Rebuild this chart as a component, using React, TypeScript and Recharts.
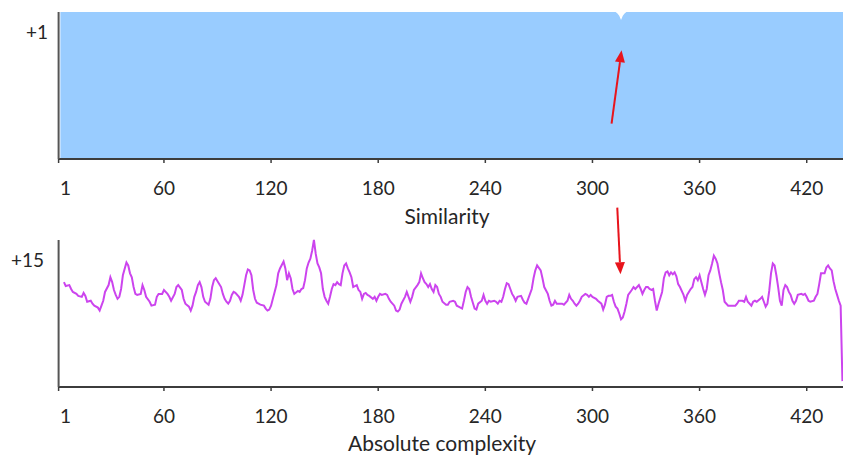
import { AreaChart, Area, LineChart, Line, XAxis, YAxis, ReferenceLine, Label } from 'recharts';

const xTicks = [1, 60, 120, 180, 240, 300, 360, 420];

// Similarity sits at +1 everywhere except a small dip around residue 316
const simPositions = [2, 313, 314, 315, 316, 317, 318, 319, 441];
const simValues = [1, 1, 0.99, 0.975, 0.945, 0.975, 0.99, 1, 1];

// Absolute complexity
const cxPositions = [
  4, 5, 7, 8, 9, 11, 12, 14, 15, 16, 17, 19, 20, 21, 23, 24, 25, 26, 27, 29, 30, 31, 32, 33, 34, 35, 36, 37, 39, 40,
  41, 42, 43, 44, 45, 47, 48, 49, 50, 52, 53, 55, 56, 57, 59, 60, 62, 63, 64, 66, 67, 68, 70, 71, 72, 74, 75, 76, 77, 78,
  79, 80, 81, 82, 83, 85, 86, 87, 88, 89, 90, 92, 93, 94, 95, 96, 97, 98, 99, 100, 102, 103, 104, 105, 106, 107, 108, 109, 110, 111,
  112, 113, 114, 116, 117, 118, 119, 120, 121, 122, 123, 124, 125, 127, 128, 129, 130, 131, 132, 133, 135, 136, 137, 138, 139, 140, 141, 142, 143, 144,
  145, 146, 147, 148, 149, 150, 151, 152, 153, 154, 155, 156, 157, 158, 159, 160, 161, 162, 163, 164, 165, 166, 168, 169, 170, 171, 172, 173, 174, 175,
  177, 178, 179, 180, 181, 182, 184, 185, 186, 187, 189, 190, 191, 192, 193, 195, 196, 197, 198, 199, 200, 202, 203, 204, 205, 206, 207, 208, 209, 210,
  211, 212, 213, 214, 215, 216, 218, 219, 220, 222, 223, 224, 225, 227, 228, 229, 230, 231, 232, 233, 234, 235, 236, 238, 239, 240, 241, 242, 243, 245,
  246, 247, 248, 249, 250, 251, 252, 253, 254, 255, 256, 257, 258, 260, 261, 262, 263, 264, 266, 267, 268, 269, 271, 272, 273, 275, 276, 277, 278, 279,
  280, 282, 283, 284, 286, 287, 288, 289, 290, 291, 292, 293, 294, 296, 297, 298, 299, 300, 302, 303, 305, 306, 307, 308, 309, 310, 311, 312, 313, 314,
  315, 316, 317, 318, 319, 320, 322, 323, 324, 326, 327, 328, 329, 330, 331, 332, 333, 334, 335, 336, 337, 339, 340, 341, 342, 343, 344, 345, 346, 347,
  348, 349, 351, 352, 353, 355, 356, 357, 358, 359, 360, 361, 362, 363, 364, 365, 366, 367, 368, 369, 370, 371, 372, 373, 374, 376, 377, 378, 380, 381,
  382, 384, 385, 386, 387, 389, 390, 391, 392, 394, 395, 396, 397, 398, 399, 400, 401, 402, 403, 404, 405, 406, 407, 408, 409, 410, 411, 412, 413, 414,
  415, 417, 418, 419, 420, 421, 422, 424, 425, 426, 427, 428, 430, 431, 432, 433, 434, 435, 436, 437, 438, 439, 440,
];
const cxValues = [
  10.7, 10.3, 10.4, 10.0, 9.7, 9.5, 9.3, 9.2, 9.6, 9.3, 8.7, 8.8, 8.5, 8.3, 8.1, 7.8, 8.3, 8.8, 9.7, 10.4, 11.2, 10.7, 9.9, 9.4, 9.0, 9.2, 10.0, 11.4, 12.7, 12.4,
  11.6, 11.2, 10.2, 9.5, 9.4, 9.5, 10.4, 9.9, 9.2, 8.7, 8.3, 8.4, 9.2, 9.5, 9.5, 9.9, 9.5, 9.2, 8.8, 9.5, 10.2, 10.4, 9.9, 9.0, 8.5, 8.2, 7.8, 8.3, 9.2, 9.7,
  10.4, 10.7, 10.2, 9.2, 8.7, 8.4, 9.0, 10.2, 10.9, 11.1, 10.8, 10.2, 9.5, 9.0, 8.7, 8.5, 8.8, 9.4, 9.7, 9.6, 9.2, 8.8, 9.4, 10.4, 11.4, 12.0, 11.9, 11.4, 9.9, 9.0,
  8.6, 8.5, 8.4, 8.3, 8.0, 7.8, 7.9, 8.3, 9.0, 9.7, 10.4, 11.6, 12.1, 12.8, 12.1, 10.9, 11.6, 11.1, 10.0, 9.5, 9.8, 9.7, 10.0, 10.1, 10.9, 12.1, 12.7, 13.1, 13.9, 15.0,
  13.6, 12.6, 12.2, 11.6, 10.0, 9.2, 8.8, 8.5, 9.2, 10.0, 10.5, 10.4, 10.7, 10.5, 10.4, 11.6, 12.4, 12.6, 12.1, 11.7, 11.2, 10.2, 10.4, 9.9, 9.7, 9.0, 9.5, 9.6, 9.4, 9.3,
  9.0, 9.2, 8.8, 9.2, 9.5, 9.4, 9.5, 9.4, 9.0, 8.7, 8.3, 7.8, 7.7, 7.9, 8.5, 9.2, 9.7, 9.2, 8.7, 9.2, 9.9, 10.4, 10.7, 11.6, 11.1, 10.7, 10.5, 10.2, 10.5, 10.0,
  9.7, 10.4, 10.2, 9.5, 9.2, 8.7, 8.4, 8.4, 8.7, 8.8, 8.7, 8.3, 8.2, 8.0, 8.8, 9.7, 10.2, 10.0, 9.2, 8.6, 8.0, 7.9, 8.5, 8.8, 9.4, 8.8, 8.5, 8.8, 8.7, 8.8,
  8.7, 8.5, 8.8, 8.7, 9.2, 10.0, 10.6, 10.5, 10.0, 9.5, 9.2, 8.8, 9.2, 9.3, 8.9, 8.6, 8.5, 9.0, 10.0, 11.1, 11.9, 12.4, 11.9, 11.1, 10.2, 9.5, 8.8, 8.3, 8.4, 8.8,
  8.5, 8.5, 8.5, 8.4, 8.8, 9.4, 9.0, 8.8, 8.5, 8.3, 8.5, 8.8, 9.2, 9.5, 9.4, 9.2, 9.4, 9.2, 9.0, 8.8, 8.5, 7.9, 8.4, 9.2, 9.3, 9.3, 9.4, 8.7, 8.2, 8.0,
  7.5, 6.9, 7.1, 7.7, 8.5, 9.4, 9.9, 10.2, 10.0, 10.4, 10.0, 9.5, 9.9, 10.2, 10.2, 10.0, 9.9, 10.0, 8.8, 7.8, 8.5, 9.7, 11.1, 11.7, 11.8, 11.4, 11.7, 11.5, 11.7, 11.3,
  10.5, 10.2, 9.4, 8.8, 9.4, 10.0, 10.2, 11.0, 11.2, 10.9, 11.4, 10.7, 10.0, 9.4, 10.0, 11.4, 11.9, 12.6, 13.4, 13.1, 12.6, 11.6, 10.7, 9.9, 8.7, 8.3, 8.3, 8.3, 8.3, 8.5,
  8.8, 8.8, 8.7, 9.2, 8.7, 8.3, 8.7, 8.8, 8.7, 9.0, 9.2, 8.7, 8.2, 8.5, 9.8, 11.6, 12.6, 12.4, 11.4, 10.2, 8.8, 8.3, 9.9, 10.4, 10.2, 9.7, 9.4, 8.8, 8.5, 8.8,
  9.4, 9.5, 9.4, 9.5, 9.2, 8.8, 8.7, 8.8, 9.2, 9.5, 10.5, 11.6, 11.6, 12.2, 12.4, 12.1, 11.9, 10.8, 10.0, 9.4, 8.8, 8.3, 0.6,
];

const simData = simPositions.map((pos, i) => ({ pos, value: simValues[i] }));
const cxData = cxPositions.map((pos, i) => ({ pos, value: cxValues[i] }));

const FONT = 'Lato, "Open Sans", sans-serif';
const TEXT = '#262626';
const AXIS = '#3c3c3c';
const RED = '#e8141c';

const renderXTick = (p: any) => {
  const v = p.payload.value;
  return (
    <text x={p.x + (v === 1 ? 7 : 0)} y={p.y + 24} textAnchor="middle" dominantBaseline="central"
      fontFamily={FONT} fontSize={19} fill={TEXT}>
      {v}
    </text>
  );
};

const yTick = (label: string, gap: number) => (p: any) => (
  <text x={p.x - gap} y={p.y + 19} textAnchor="end" dominantBaseline="central" fontFamily={FONT} fontSize={19} fill={TEXT}>
    {label}
  </text>
);

const title = (text: string, cx: number, dy: number) => (p: any) => (
  <text x={cx} y={p.viewBox.y + dy} textAnchor="middle" dominantBaseline="central" fontFamily={FONT} fontSize={21} fill={TEXT}>
    {text}
  </text>
);

const Arrow = (p: any) => {
  const { x1, y1, x2, y2 } = p;
  const a = Math.atan2(y2 - y1, x2 - x1);
  const len = 12;
  const half = 5;
  const bx = x2 - len * Math.cos(a);
  const by = y2 - len * Math.sin(a);
  const nx = -Math.sin(a) * half;
  const ny = Math.cos(a) * half;
  return (
    <g>
      <line x1={x1} y1={y1} x2={bx} y2={by} stroke={RED} strokeWidth={2} />
      <polygon points={`${x2},${y2} ${bx + nx},${by + ny} ${bx - nx},${by - ny}`} fill={RED} />
    </g>
  );
};

const xAxisCommon = {
  dataKey: 'pos',
  type: 'number' as const,
  domain: [1, 442],
  ticks: xTicks,
  interval: 0 as const,
  allowDataOverflow: true,
  tickSize: 4,
  tickMargin: 0,
  axisLine: { stroke: AXIS, strokeWidth: 2 },
  tickLine: { stroke: AXIS, strokeWidth: 1.5 },
  tick: renderXTick,
};

export default function App() {
  return (
    <div style={{ position: 'fixed', left: 0, top: 0, width: 843, height: 456, overflow: 'hidden', background: '#fff' }}>
      <div style={{ position: 'absolute', left: 0, top: 0 }}>
        <AreaChart width={846} height={235} data={simData} margin={{ top: 12, right: 0, bottom: 0, left: 0 }}>
          <XAxis {...xAxisCommon} height={76}>
            <Label content={title('Similarity', 447, 56)} />
          </XAxis>
          <YAxis type="number" domain={[0, 1]} ticks={[1]} width={58.6} tickLine={false} tickSize={0} tickMargin={0}
            axisLine={{ stroke: '#555', strokeWidth: 2 }} tick={yTick('+1', 10.6)} />
          <Area dataKey="value" type="linear" fill="#99ccff" fillOpacity={1} stroke="none" isAnimationActive={false} />
          <ReferenceLine segment={[{ x: 310.7, y: 0.24 }, { x: 316.3, y: 0.74 }]} ifOverflow="visible" shape={Arrow} />
        </AreaChart>
      </div>
      <div style={{ position: 'absolute', left: 0, top: 190 }}>
        <LineChart width={846} height={266} data={cxData} margin={{ top: 50, right: 0, bottom: 0, left: 0 }}>
          <XAxis {...xAxisCommon} height={69}>
            <Label content={title('Absolute complexity', 442, 55)} />
          </XAxis>
          <YAxis type="number" domain={[0, 15]} ticks={[15]} width={58.6} tickLine={false} tickSize={0} tickMargin={0}
            axisLine={{ stroke: '#555', strokeWidth: 2 }} tick={yTick('+15', 14.6)} />
          <Line dataKey="value" type="linear" stroke="#cc44ee" strokeWidth={2} dot={false} isAnimationActive={false} />
          <ReferenceLine segment={[{ x: 313.9, y: 18.3 }, { x: 315.7, y: 11.5 }]} ifOverflow="visible" shape={Arrow} />
        </LineChart>
      </div>
    </div>
  );
}
